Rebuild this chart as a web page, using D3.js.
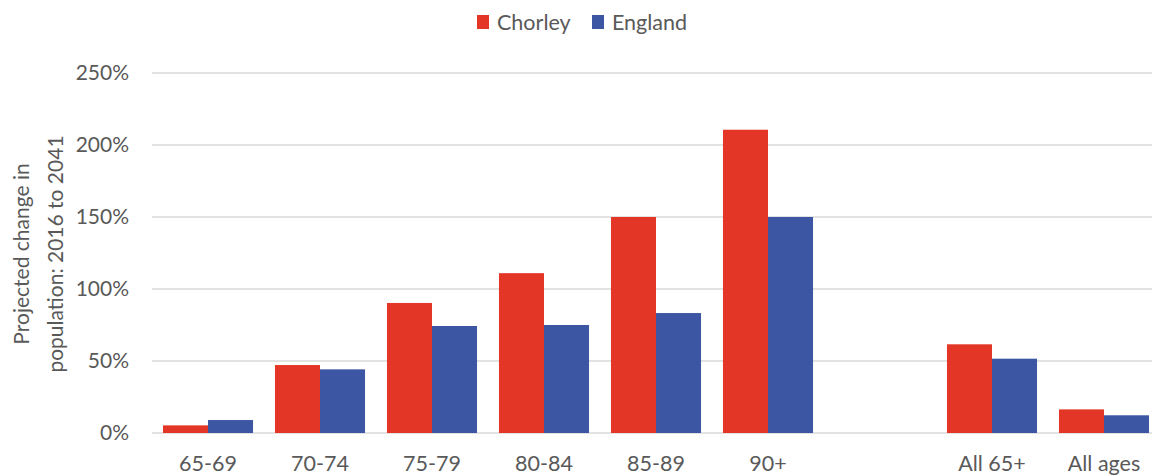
<!DOCTYPE html>
<html><head><meta charset="utf-8">
<script src="https://cdn.jsdelivr.net/npm/d3@7"></script>
<style>body{margin:0;background:#fff}svg{display:block}text{font-family:Lato,"Open Sans",sans-serif;fill:#595959}</style>
</head><body><svg id="c" width="1152" height="475"></svg>
<script>
const categories = ["65-69","70-74","75-79","80-84","85-89","90+","","All 65+","All ages"];
const seriesNames = ["Chorley","England"];
const chorley = [5.3,47.2,90.3,111,150,210.6,null,61.6,16.4];
const england = [9,44.2,74.3,75,83.3,150,null,51.6,12.3];
const yTicks = [0,50,100,150,200,250];
const colors = ["#E43626","#3C56A3"];

const svg = d3.select("#c");
const m = {l:152, r:1160, t:73, b:433};
const x = d3.scaleBand().domain(d3.range(categories.length)).range([m.l,m.r]).paddingInner(0.196).paddingOuter(0.098);
const x1 = d3.scaleBand().domain([0,1]).range([0,x.bandwidth()]);
const y = d3.scaleLinear().domain([0,250]).range([m.b,m.t]);

// grid
svg.append("g").selectAll("line").data(yTicks).join("line")
  .attr("x1",m.l).attr("x2",1152).attr("y1",d=>y(d)).attr("y2",d=>y(d))
  .attr("stroke","#d9d9d9").attr("stroke-width",1.3);
svg.append("g").selectAll("text").data(yTicks).join("text")
  .attr("x",129).attr("y",d=>y(d)).attr("dy","0.35em").attr("text-anchor","end")
  .attr("font-size",21).text(d=>d+"%");

const data = [chorley, england];
data.forEach((vals,si)=>{
  svg.append("g").selectAll("rect").data(vals.map((v,i)=>({v,i})).filter(d=>d.v!=null)).join("rect")
    .attr("x",d=>x(d.i)+x1(si)).attr("width",x1.bandwidth())
    .attr("y",d=>y(d.v)).attr("height",d=>y(0)-y(d.v))
    .attr("fill",colors[si]);
});

// x labels
svg.append("g").selectAll("text").data(categories.map((c,i)=>({c,i}))).join("text")
  .attr("x",d=>x(d.i)+x.bandwidth()/2).attr("y",463).attr("dy","0.35em")
  .attr("text-anchor","middle").attr("font-size",21.5).text(d=>d.c);

// y title
const yt = svg.append("text").attr("transform","translate(0,254) rotate(-90)")
  .attr("text-anchor","middle").attr("font-size",21);
yt.append("tspan").attr("x",0).attr("y",29).text("Projected change in");
yt.append("tspan").attr("x",0).attr("y",63).text("population: 2016 to 2041");

// legend
const lg = svg.append("g");
const lx = [477,592];
seriesNames.forEach((n,i)=>{
  lg.append("rect").attr("x",lx[i]).attr("y",15).attr("width",12).attr("height",14).attr("fill",colors[i]);
  lg.append("text").attr("x",lx[i]+20).attr("y",22).attr("dy","0.35em").attr("font-size",21.5).text(n);
});
</script></body></html>
